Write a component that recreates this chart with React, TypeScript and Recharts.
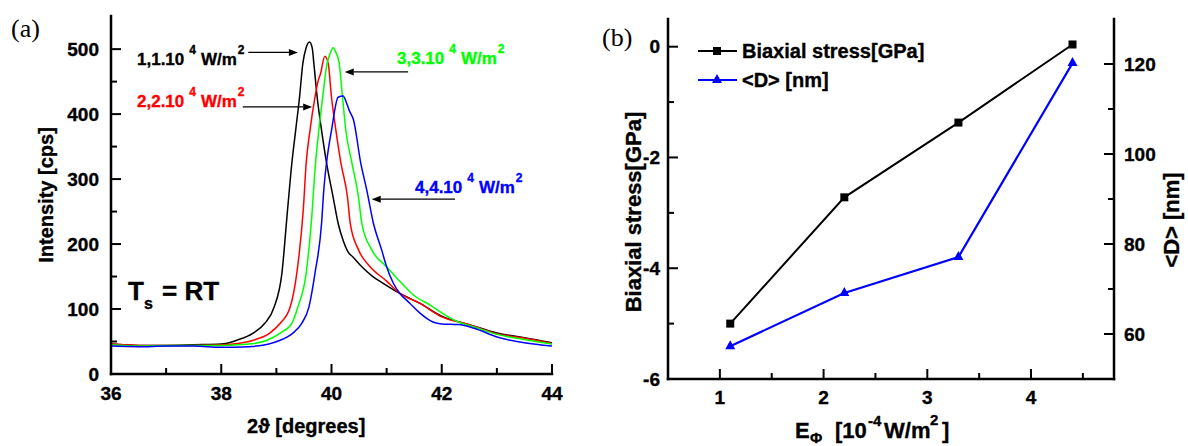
import React from 'react';
import { LineChart, Line, XAxis, YAxis, ReferenceLine } from 'recharts';

const FONT = '"Liberation Sans", Arial, sans-serif';

// (a) XRD scans, 2theta and intensity for each power density
const theta11 = [36.0, 36.5, 37.0, 37.5, 38.0, 38.28, 38.58, 38.79, 38.96, 39.1, 39.2, 39.28, 39.35, 39.42, 39.48, 39.54, 39.6, 39.65, 39.68, 39.74, 39.82, 39.91, 40.03, 40.12, 40.21, 40.3, 40.39, 40.55, 40.75, 40.93, 41.24, 41.6, 42.0, 42.5, 43.0, 43.5, 44.0];
const int11 = [46, 44, 44, 45, 46, 52, 63, 78, 103, 155, 250, 324, 375, 426, 478, 502, 511, 502, 478, 426, 375, 325, 272, 232, 206, 188, 180, 165, 150, 140, 124, 109, 89, 76, 63, 56, 48];

const theta22 = [36.0, 36.5, 37.0, 37.5, 38.0, 38.3, 38.58, 38.88, 39.07, 39.25, 39.37, 39.49, 39.54, 39.61, 39.7, 39.76, 39.8, 39.88, 39.94, 40.0, 40.08, 40.17, 40.29, 40.34, 40.49, 40.7, 41.0, 41.24, 41.6, 42.0, 42.5, 43.0, 43.5, 44.0];
const int22 = [46, 44, 44, 44, 45, 47, 52, 63, 78, 103, 155, 255, 324, 375, 426, 452, 462, 489, 478, 426, 375, 325, 272, 232, 191, 165, 143, 124, 109, 88, 76, 62, 55, 47];

const theta33 = [36.0, 36.5, 37.0, 37.5, 38.0, 38.5, 38.83, 39.07, 39.28, 39.39, 39.54, 39.64, 39.71, 39.77, 39.84, 39.92, 39.97, 40.03, 40.08, 40.14, 40.2, 40.26, 40.37, 40.49, 40.55, 40.73, 41.0, 41.27, 41.48, 41.79, 42.02, 42.3, 42.6, 43.0, 43.5, 44.0];
const int33 = [45, 43, 44, 44, 44, 46, 52, 63, 78, 103, 155, 240, 324, 375, 426, 478, 492, 502, 495, 478, 426, 375, 325, 272, 232, 191, 165, 140, 122, 106, 93, 80, 72, 61, 53, 46];

const theta44 = [36.0, 36.5, 37.0, 37.5, 38.0, 38.5, 39.07, 39.3, 39.46, 39.59, 39.7, 39.82, 39.86, 39.91, 40.0, 40.12, 40.21, 40.27, 40.32, 40.4, 40.53, 40.64, 40.76, 40.91, 41.0, 41.12, 41.24, 41.42, 41.6, 41.84, 42.0, 42.3, 42.6, 43.0, 43.5, 44.0];
const int44 = [43, 42, 43, 43, 41, 42, 52, 63, 78, 103, 155, 232, 283, 325, 375, 426, 428, 418, 406, 391, 325, 283, 232, 191, 165, 140, 124, 109, 94, 80, 77, 76, 70, 57, 48, 43];

const xTicksA = [36, 37, 38, 39, 40, 41, 42, 43, 44];
const xLabelsA = [36, 38, 40, 42, 44];
const yTicksA = [0, 50, 100, 150, 200, 250, 300, 350, 400, 450, 500];
const yLabelsA = [0, 100, 200, 300, 400, 500];

// arrows pointing labels at peaks: [from theta, to theta, intensity]
const arrowsA = [
  [38.49, 39.39, 495],
  [38.39, 39.65, 411],
  [41.39, 40.24, 465],
  [42.24, 40.73, 269],
];

// (b) stress and grain size vs power density
const energy = [1.1, 2.2, 3.3, 4.4];
const stress = [-5.0, -2.72, -1.37, 0.04];
const grain = [57.3, 69.1, 77.1, 120.2];

const xTicksB = [1, 1.5, 2, 2.5, 3, 3.5, 4, 4.5];
const xLabelsB = [1, 2, 3, 4];
const sTicks = [-6, -5, -4, -3, -2, -1, 0];
const sLabels = [-6, -4, -2, 0];
const dTicks = [60, 70, 80, 90, 100, 110, 120];
const dLabels = [60, 80, 100, 120];

const toPoints = (t: number[], v: number[]) => t.map((x, i) => ({ theta: x, cps: v[i] }));
const rowsB = energy.map((e, i) => ({ e, stress: stress[i], d: grain[i] }));

type Side = 'bottom' | 'left' | 'right' | 'top';

// heavy bold text, the scan looks a bit blurred/thick
const heavy = (fontSize: number, color = '#000') =>
  ({ fontSize, fontWeight: 700, fontFamily: FONT, fill: color, stroke: color, strokeWidth: 0.35 }) as any;

function axisTick(side: Side, labels: number[], showText: boolean, fontSize = 19, gap = 12) {
  return (props: any) => {
    const { x, y, payload } = props;
    const v = payload.value as number;
    const major = labels.includes(v);
    const len = major ? 10 : 6;
    let line: any = null;
    let text: any = null;
    const st = heavy(fontSize);
    if (side === 'bottom') {
      line = <line x1={x} y1={y} x2={x} y2={y - len} stroke="#000" strokeWidth={2} />;
      text = <text x={x} y={y + gap} textAnchor="middle" style={st}>{v}</text>;
    } else if (side === 'top') {
      line = <line x1={x} y1={y} x2={x} y2={y + len} stroke="#000" strokeWidth={2} />;
    } else if (side === 'left') {
      line = <line x1={x} y1={y} x2={x + len} y2={y} stroke="#000" strokeWidth={2} />;
      text = <text x={x - gap} y={y + 6.5} textAnchor="end" style={st}>{v}</text>;
    } else {
      line = <line x1={x} y1={y} x2={x - len} y2={y} stroke="#000" strokeWidth={2} />;
      text = <text x={x + gap} y={y + 6.5} textAnchor="start" style={st}>{v}</text>;
    }
    return (
      <g key={`${side}-${v}`}>
        {line}
        {showText && major ? text : null}
      </g>
    );
  };
}

const frame = { stroke: '#000', strokeWidth: 2.5, strokeLinecap: 'square' } as any;

const Arrow = (p: any) => {
  const { x1, y1, x2, y2 } = p;
  const dir = Math.sign(x2 - x1);
  const hx = x2 - dir * 9;
  return (
    <g>
      <line x1={x1} y1={y1} x2={hx} y2={y2} stroke="#000" strokeWidth={1.3} />
      <polygon points={`${x2},${y2} ${hx},${y2 - 3.5} ${hx},${y2 + 3.5}`} fill="#000" />
    </g>
  );
};

const SquareDot = (p: any) => (
  <rect key={`sq-${p.index}`} x={p.cx - 4} y={p.cy - 4} width={8} height={8} fill="#000" />
);
const TriDot = (p: any) => (
  <polygon key={`tr-${p.index}`} points={`${p.cx},${p.cy - 6} ${p.cx - 5},${p.cy + 3} ${p.cx + 5},${p.cy + 3}`} fill="#0000ff" />
);

function PowerNote({ x, y, lead, color }: { x: number; y: number; lead: string; color: string }) {
  return (
    <text x={x} y={y} style={heavy(17, color)}>
      {lead}
      <tspan dx={5} dy={-11} style={{ fontSize: 12 }}>4</tspan>
      <tspan dx={5} dy={11}>W/m</tspan>
      <tspan dx={1} dy={-11} style={{ fontSize: 12 }}>2</tspan>
    </text>
  );
}

function PanelA() {
  return (
    <LineChart width={590} height={446} margin={{ top: 16, right: 38, bottom: 0, left: 0 }}>
      <XAxis
        dataKey="theta"
        type="number"
        domain={[36, 44]}
        ticks={xTicksA}
        interval={0}
        height={72}
        tickSize={0}
        tickMargin={0}
        tickLine={false}
        axisLine={frame}
        tick={axisTick('bottom', xLabelsA, true, 19, 26)}
        allowDataOverflow
      />
      <XAxis xAxisId="top" orientation="top" type="number" domain={[36, 44]} height={0} tick={false} tickLine={false} axisLine={frame} />
      <YAxis
        type="number"
        domain={[0, 551]}
        ticks={yTicksA}
        interval={0}
        width={111}
        tickSize={0}
        tickMargin={0}
        tickLine={false}
        axisLine={frame}
        tick={axisTick('left', yLabelsA, true, 19, 12)}
        allowDataOverflow
      />
      <YAxis yAxisId="right" orientation="right" type="number" domain={[0, 551]} width={0} tick={false} tickLine={false} axisLine={frame} />
      <Line data={toPoints(theta11, int11)} dataKey="cps" type="monotone" stroke="#000000" strokeWidth={1.5} dot={false} isAnimationActive={false} />
      <Line data={toPoints(theta22, int22)} dataKey="cps" type="monotone" stroke="#ff0000" strokeWidth={1.5} dot={false} isAnimationActive={false} />
      <Line data={toPoints(theta33, int33)} dataKey="cps" type="monotone" stroke="#00ff00" strokeWidth={1.5} dot={false} isAnimationActive={false} />
      <Line data={toPoints(theta44, int44)} dataKey="cps" type="monotone" stroke="#0000ff" strokeWidth={1.5} dot={false} isAnimationActive={false} />
      {arrowsA.map(([a, b, y], i) => (
        <ReferenceLine key={i} segment={[{ x: a, y }, { x: b, y }]} shape={Arrow} />
      ))}
    </LineChart>
  );
}

function PanelB() {
  return (
    <LineChart width={598} height={446} data={rowsB} margin={{ top: 19, right: 0, bottom: 0, left: 0 }}>
      <XAxis
        dataKey="e"
        type="number"
        domain={[0.5, 4.8]}
        ticks={xTicksB}
        interval={0}
        height={67}
        tickSize={0}
        tickMargin={0}
        tickLine={false}
        axisLine={frame}
        tick={axisTick('bottom', xLabelsB, true, 19, 25)}
        allowDataOverflow
      />
      <XAxis
        xAxisId="top"
        orientation="top"
        type="number"
        domain={[0.5, 4.8]}
        ticks={xTicksB}
        interval={0}
        height={0}
        tickSize={0}
        tickMargin={0}
        tickLine={false}
        axisLine={frame}
        tick={axisTick('top', xLabelsB, false)}
        allowDataOverflow
      />
      <YAxis
        yAxisId="s"
        type="number"
        domain={[-6, 0.5]}
        ticks={sTicks}
        interval={0}
        width={78}
        tickSize={0}
        tickMargin={0}
        tickLine={false}
        axisLine={frame}
        tick={axisTick('left', sLabels, true, 19, 8)}
        allowDataOverflow
      />
      <YAxis
        yAxisId="d"
        orientation="right"
        type="number"
        domain={[50, 130]}
        ticks={dTicks}
        interval={0}
        width={74}
        tickSize={0}
        tickMargin={0}
        tickLine={false}
        axisLine={frame}
        tick={axisTick('right', dLabels, true, 19, 10)}
        allowDataOverflow
      />
      <Line yAxisId="s" dataKey="stress" type="linear" stroke="#000" strokeWidth={2} dot={SquareDot} isAnimationActive={false} />
      <Line yAxisId="d" dataKey="d" type="linear" stroke="#0000ff" strokeWidth={2.2} dot={TriDot} isAnimationActive={false} />
    </LineChart>
  );
}

function Overlay() {
  const b = (fontSize: number) => heavy(fontSize);
  return (
    <svg width={1188} height={446} style={{ position: 'absolute', left: 0, top: 0, pointerEvents: 'none' }}>
      <text x={11} y={37} style={{ fontSize: 26, fontFamily: '"Liberation Serif", serif' }}>(a)</text>
      <text x={602} y={46} style={{ fontSize: 26, fontFamily: '"Liberation Serif", serif' }}>(b)</text>

      <PowerNote x={137} y={65} lead="1,1.10" color="#000000" />
      <PowerNote x={137} y={107} lead="2,2.10" color="#ff0000" />
      <PowerNote x={397} y={64} lead="3,3.10" color="#00ff00" />
      <PowerNote x={415} y={193} lead="4,4.10" color="#0000ff" />

      <text x={128} y={300} style={b(26)}>T</text>
      <text x={144} y={309} style={b(16)}>s</text>
      <text x={162} y={300} style={b(26)}>= RT</text>

      <text transform="translate(53,195) rotate(-90)" textAnchor="middle" style={b(20)}>Intensity [cps]</text>
      <text x={247} y={433} style={b(20)}>2ϑ [degrees]</text>

      <text transform="translate(641,212) rotate(-90)" textAnchor="middle" style={b(22)}>Biaxial stress[GPa]</text>
      <text transform="translate(1179,220) rotate(-90)" textAnchor="middle" style={b(22)}>{'<D> [nm]'}</text>

      <text x={795} y={438} style={b(22)}>E</text>
      <text x={810} y={443} style={b(15)}>Φ</text>
      <text x={835} y={438} style={b(22)}>[10</text>
      <text x={868} y={426} style={b(15)}>-4</text>
      <text x={884} y={438} style={b(22)}>W/m</text>
      <text x={930} y={425} style={b(15)}>2</text>
      <text x={942} y={438} style={b(22)}>]</text>

      <line x1={698} y1={51} x2={737} y2={51} stroke="#000" strokeWidth={2} />
      <rect x={713} y={47} width={8} height={8} fill="#000" />
      <text x={742} y={58} style={b(20)}>Biaxial stress[GPa]</text>
      <line x1={698} y1={80} x2={737} y2={80} stroke="#0000ff" strokeWidth={2} />
      <polygon points="717,74 712,83 722,83" fill="#0000ff" />
      <text x={742} y={87} style={b(20)}>{'<D> [nm]'}</text>
    </svg>
  );
}

export default function App() {
  return (
    <div style={{ position: 'absolute', left: 0, top: 0, width: 1188, height: 446, background: '#fff' }}>
      <div style={{ position: 'absolute', left: 0, top: 0 }}>
        <PanelA />
      </div>
      <div style={{ position: 'absolute', left: 590, top: 0 }}>
        <PanelB />
      </div>
      <Overlay />
    </div>
  );
}
